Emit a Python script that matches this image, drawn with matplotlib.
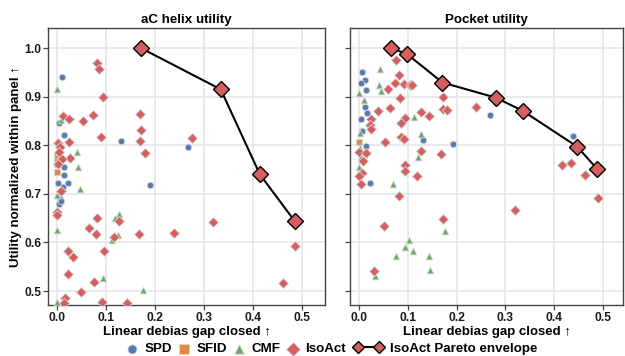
import matplotlib
matplotlib.use("Agg")
import matplotlib.pyplot as plt
from matplotlib.lines import Line2D

plt.rcParams['font.family'] = ['Liberation Sans', 'DejaVu Sans']
plt.rcParams['font.weight'] = 'bold'

# ---- aC helix panel data ----
helix_spd_x = [0.010, 0.003, 0.014, 0.130, 0.267, 0.015, 0.014, 0.002, 0.011, 0.022, 0.190, 0.006, 0.004, 0.008]
helix_spd_y = [0.941, 0.846, 0.821, 0.809, 0.796, 0.756, 0.739, 0.723, 0.715, 0.722, 0.718, 0.689, 0.680, 0.686]
helix_sfid_x = [0.0, 0.0, 0.0, 0.0, 0.0]
helix_sfid_y = [0.780, 0.774, 0.768, 0.762, 0.744]
helix_cmf_x = [0.0, 0.008, 0.040, 0.042, 0.046, 0.0, 0.0, 0.127, 0.118, 0.124, 0.112, 0.093, 0.175, 0.0]
helix_cmf_y = [0.915, 0.852, 0.786, 0.756, 0.710, 0.698, 0.626, 0.658, 0.651, 0.615, 0.605, 0.527, 0.502, 0.478]
helix_iso_x = [0.082, 0.085, 0.093, 0.012, 0.024, 0.052, 0.073, 0.169, 0.171, 0.090, 0.170, 0.276, 0.180,
               0.001, 0.005, 0.025, 0.003, 0.026, 0.009, 0.001, 0.008, 0.0, 0.0, 0.081, 0.127, 0.065, 0.079,
               0.116, 0.167, 0.239, 0.318, 0.486, 0.022, 0.032, 0.096, 0.022, 0.076, 0.049, 0.017, 0.015,
               0.091, 0.143, 0.461]
helix_iso_y = [0.970, 0.957, 0.900, 0.860, 0.855, 0.850, 0.862, 0.864, 0.831, 0.816, 0.809, 0.814, 0.783,
               0.805, 0.797, 0.806, 0.787, 0.773, 0.771, 0.762, 0.706, 0.663, 0.656, 0.650, 0.645, 0.629, 0.617,
               0.612, 0.617, 0.620, 0.641, 0.593, 0.583, 0.569, 0.582, 0.534, 0.519, 0.497, 0.485, 0.475,
               0.478, 0.475, 0.516]
helix_pareto_x = [0.171, 0.334, 0.414, 0.485]
helix_pareto_y = [1.0, 0.915, 0.740, 0.644]

# ---- Pocket panel data ----
pocket_spd_x = [0.007, 0.013, 0.004, 0.015, 0.012, 0.016, 0.005, 0.006, 0.014, 0.132, 0.192, 0.268, 0.438, 0.023]
pocket_spd_y = [0.950, 0.934, 0.929, 0.913, 0.879, 0.867, 0.853, 0.829, 0.799, 0.811, 0.802, 0.862, 0.820, 0.723]
pocket_sfid_x = [0.001]
pocket_sfid_y = [0.807]
pocket_cmf_x = [0.043, 0.040, 0.046, 0.001, 0.010, 0.113, 0.126, 0.002, 0.002, 0.005, 0.121, 0.0, 0.070,
                0.176, 0.103, 0.095, 0.110, 0.075, 0.144, 0.145, 0.032]
pocket_cmf_y = [0.956, 0.923, 0.911, 0.908, 0.894, 0.859, 0.824, 0.825, 0.795, 0.776, 0.775, 0.756, 0.720,
                0.624, 0.604, 0.591, 0.582, 0.572, 0.572, 0.544, 0.530]
pocket_iso_x = [0.075, 0.082, 0.074, 0.092, 0.104, 0.108, 0.059, 0.083, 0.172, 0.063, 0.039, 0.128, 0.143,
                0.172, 0.180, 0.240, 0.024, 0.094, 0.087, 0.022, 0.024, 0.086, 0.093, 0.053, 0.127, 0.169,
                0.0, 0.014, 0.008, 0.095, 0.095, 0.118, 0.006, 0.001, 0.005, 0.415, 0.434, 0.463, 0.082,
                0.051, 0.173, 0.320, 0.031, 0.490]
pocket_iso_y = [0.975, 0.944, 0.928, 0.927, 0.923, 0.924, 0.916, 0.898, 0.899, 0.877, 0.870, 0.868, 0.860,
                0.875, 0.872, 0.879, 0.855, 0.857, 0.846, 0.841, 0.834, 0.816, 0.812, 0.807, 0.789, 0.782,
                0.787, 0.783, 0.767, 0.760, 0.747, 0.737, 0.742, 0.737, 0.720, 0.759, 0.764, 0.739, 0.695,
                0.634, 0.648, 0.666, 0.541, 0.691]
pocket_pareto_x = [0.065, 0.098, 0.171, 0.280, 0.335, 0.447, 0.487]
pocket_pareto_y = [1.0, 0.988, 0.929, 0.898, 0.871, 0.797, 0.752]

C_SPD = '#5a7ab2'
C_SFID = '#e08a45'
C_CMF = '#6aa86a'
C_ISO = '#d45f60'
HALO = '#d9d9d9'
LABEL_SIZE = 9.5


def draw_panel(ax, spd, sfid, cmf, iso, pareto, title, xmax):
    """Draws one utility panel, returns the handles for the legend"""
    h_spd = ax.scatter(*spd, s=22, marker='o', c=C_SPD, edgecolors=HALO, linewidths=0.6, zorder=3)
    h_sfid = ax.scatter(*sfid, s=22, marker='s', c=C_SFID, edgecolors=HALO, linewidths=0.6, zorder=3)
    h_cmf = ax.scatter(*cmf, s=24, marker='^', c=C_CMF, edgecolors=HALO, linewidths=0.6, zorder=3)
    h_iso = ax.scatter(*iso, s=26, marker='D', c=C_ISO, edgecolors=HALO, linewidths=0.6, zorder=3)
    h_par, = ax.plot(*pareto, '-', color='black', lw=1.5, marker='D', ms=8.5, mfc=C_ISO, mec='black',
                     mew=1.0, zorder=4)
    ax.set_xlim(-0.0184, xmax)
    ax.set_ylim(0.471, 1.041)
    ax.set_xticks([0.0, 0.1, 0.2, 0.3, 0.4, 0.5])
    ax.set_yticks([0.5, 0.6, 0.7, 0.8, 0.9, 1.0])
    ax.grid(True, color='#e6e6e6', lw=1.2, zorder=0)
    ax.set_axisbelow(True)
    for sp in ax.spines.values():
        sp.set_color('#444444')
        sp.set_linewidth(1.0)
    ax.tick_params(direction='out', length=3.5, width=0.9, pad=1.5, color='#444444', labelsize=8.7,
                   labelcolor='#1a1a1a')
    for lab in ax.get_xticklabels() + ax.get_yticklabels():
        lab.set_fontweight('bold')
    ax.set_title(title, fontsize=9.6, fontweight='bold', pad=4)
    ax.set_xlabel('Linear debias gap closed ↑', fontsize=LABEL_SIZE, fontweight='bold', labelpad=1.5)
    return [h_spd, h_sfid, h_cmf, h_iso, h_par]


fig = plt.figure(figsize=(6.25, 3.56), dpi=100)
ax1 = fig.add_axes([0.077, 0.143, 0.443, 0.778])
ax2 = fig.add_axes([0.56, 0.143, 0.437, 0.778])

handles = draw_panel(ax1, (helix_spd_x, helix_spd_y), (helix_sfid_x, helix_sfid_y), (helix_cmf_x, helix_cmf_y),
                     (helix_iso_x, helix_iso_y), (helix_pareto_x, helix_pareto_y), 'aC helix utility', 0.547)
draw_panel(ax2, (pocket_spd_x, pocket_spd_y), (pocket_sfid_x, pocket_sfid_y), (pocket_cmf_x, pocket_cmf_y),
           (pocket_iso_x, pocket_iso_y), (pocket_pareto_x, pocket_pareto_y), 'Pocket utility', 0.541)
ax1.set_ylabel('Utility normalized within panel ↑', fontsize=LABEL_SIZE, fontweight='bold', labelpad=1.5)
ax2.tick_params(labelleft=False)

# Legend is built in two parts so the envelope entry can get a longer handle
labels = ['SPD', 'SFID', 'CMF', 'IsoAct', 'IsoAct Pareto envelope']
leg_font = {'weight': 'bold', 'size': 9.6}
fig.legend(handles[:4], labels[:4], loc='center right', bbox_to_anchor=(0.553, 0.02), ncol=4,
           frameon=False, prop=leg_font, handlelength=1.0, handletextpad=0.4, columnspacing=0.45,
           scatterpoints=1, markerscale=1.4, borderpad=0, borderaxespad=0)
pareto_handle = Line2D([], [], ls='-', color='black', lw=1.5, marker='D', ms=6.5, mfc=C_ISO, mec='black', mew=1.0)
fig.legend([pareto_handle], labels[4:], loc='center left', bbox_to_anchor=(0.566, 0.02), frameon=False,
           prop=leg_font, handlelength=2.2, handletextpad=0.5, numpoints=2, borderpad=0, borderaxespad=0)
fig.savefig('out.png', dpi=100)
